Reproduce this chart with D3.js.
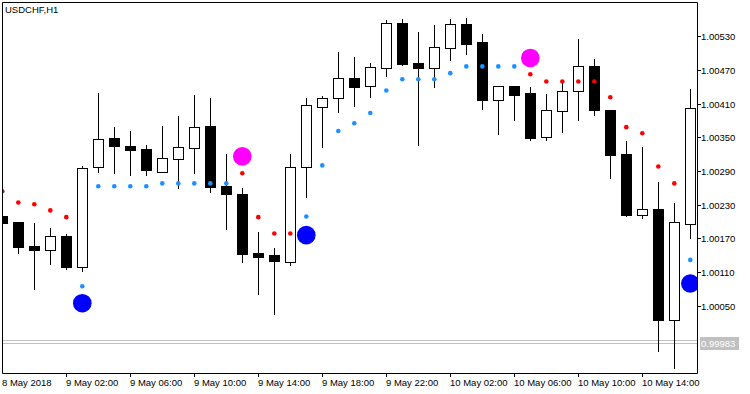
<!DOCTYPE html>
<html>
<head>
<meta charset="utf-8">
<script src="https://cdn.jsdelivr.net/npm/d3@7"></script>
<style>
  html, body { margin: 0; padding: 0; background: #fff; }
  svg { display: block; }
  text { font-family: "Liberation Sans", Arial, sans-serif; font-size: 9.5px; fill: #000; }
</style>
</head>
<body>
<svg id="chart" width="750" height="394"></svg>
<script>
'use strict';

// USDCHF H1, one candle per hour from 8 May 22:00 to 10 May 17:00
const opens = [1.00210, 1.00199, 1.00155, 1.00148, 1.00173, 1.00119, 1.00296, 1.00347, 1.00334, 1.00329,
    1.00289, 1.00312, 1.00331, 1.00369, 1.00262, 1.00249, 1.00144, 1.00139, 1.00129, 1.00297,
    1.00404, 1.00419, 1.00455, 1.00440, 1.00474, 1.00553, 1.00482, 1.00474, 1.00509, 1.00551,
    1.00518, 1.00416, 1.00441, 1.00427, 1.00350, 1.00397, 1.00432, 1.00476, 1.00398, 1.00320,
    1.00212, 1.00222, 1.00026, 1.00196];
const highs = [1.00214, 1.00199, 1.00198, 1.00189, 1.00178, 1.00299, 1.00428, 1.00368, 1.00361, 1.00336,
    1.00370, 1.00388, 1.00425, 1.00419, 1.00320, 1.00259, 1.00181, 1.00153, 1.00320, 1.00420,
    1.00423, 1.00502, 1.00493, 1.00482, 1.00558, 1.00560, 1.00537, 1.00550, 1.00560, 1.00562,
    1.00534, 1.00441, 1.00441, 1.00439, 1.00427, 1.00450, 1.00525, 1.00489, 1.00398, 1.00343,
    1.00332, 1.00270, 1.00233, 1.00436];
const lows = [1.00196, 1.00145, 1.00080, 1.00125, 1.00116, 1.00113, 1.00288, 1.00287, 1.00282, 1.00282,
    1.00289, 1.00260, 1.00287, 1.00253, 1.00187, 1.00129, 1.00072, 1.00035, 1.00122, 1.00243,
    1.00333, 1.00394, 1.00406, 1.00422, 1.00459, 1.00478, 1.00337, 1.00439, 1.00487, 1.00498,
    1.00401, 1.00356, 1.00381, 1.00346, 1.00346, 1.00359, 1.00381, 1.00390, 1.00278, 1.00210,
    1.00207, 0.99970, 0.99940, 1.00170];
const closes = [1.00198, 1.00154, 1.00148, 1.00173, 1.00118, 1.00295, 1.00346, 1.00333, 1.00328, 1.00291,
    1.00313, 1.00332, 1.00368, 1.00260, 1.00248, 1.00143, 1.00138, 1.00129, 1.00297, 1.00407,
    1.00419, 1.00455, 1.00440, 1.00474, 1.00553, 1.00480, 1.00474, 1.00510, 1.00551, 1.00516,
    1.00415, 1.00441, 1.00426, 1.00347, 1.00398, 1.00432, 1.00476, 1.00398, 1.00319, 1.00212,
    1.00222, 1.00026, 1.00199, 1.00402];

// trailing stop dots: red above price in a downtrend, blue below in an uptrend
const stopDown = [1.00254, 1.00234, 1.00231, 1.00220, 1.00208, null, null, null, null, null,
    null, null, null, null, null, 1.00286, 1.00208, 1.00179, 1.00179, null,
    null, null, null, null, null, null, null, null, null, null,
    null, null, null, 1.00462, 1.00449, 1.00449, 1.00449, 1.00449, 1.00421, 1.00368,
    1.00357, 1.00298, 1.00268, null];
const stopUp = [null, null, null, null, null, 1.00085, 1.00263, 1.00263, 1.00263, 1.00263,
    1.00268, 1.00268, 1.00268, 1.00268, 1.00268, null, null, null, null, 1.00209,
    1.00300, 1.00361, 1.00375, 1.00393, 1.00433, 1.00453, 1.00453, 1.00453, 1.00464, 1.00476,
    1.00476, 1.00476, 1.00476, null, null, null, null, null, null, null,
    null, null, null, 1.00132];

// signal arrows drawn as big circles
const buyBars = [5, 19, 43];
const buyPrices = [1.00055, 1.00176, 1.00090];
const sellBars = [15, 33];
const sellPrices = [1.00316, 1.00491];

const priceTicks = [1.00050, 1.00110, 1.00170, 1.00230, 1.00290, 1.00350, 1.00410, 1.00470, 1.00530];
const timeTickBars = [4, 8, 12, 16, 20, 24, 28, 32, 36, 40];
const timeTickLabels = ["9 May 02:00", "9 May 06:00", "9 May 10:00", "9 May 14:00", "9 May 18:00",
    "9 May 22:00", "10 May 02:00", "10 May 06:00", "10 May 10:00", "10 May 14:00"];
const firstLabel = "8 May 2018";
const symbol = "USDCHF,H1";
const bid = 0.99983;
const ask = 0.99989;

const pLeft = 2, pTop = 2, pRight = 697, pBottom = 373;
const svg = d3.select("#chart");

const x = d3.scaleLinear().domain([0, opens.length - 1]).range([2.3, 690.3]);
const y = d3.scaleLinear().domain([1.00050, 1.00530]).range([306, 36]);
const px = v => Math.floor(v) + 0.5;

svg.append("defs").append("clipPath").attr("id", "plot")
    .append("rect")
    .attr("x", pLeft + 0.5).attr("y", pTop + 0.5)
    .attr("width", pRight - pLeft - 0.5).attr("height", pBottom - pTop - 0.5);

const plot = svg.append("g").attr("clip-path", "url(#plot)");

// bid / ask lines
plot.selectAll("line.quote").data([ask, bid]).join("line")
    .attr("class", "quote")
    .attr("x1", pLeft).attr("x2", pRight)
    .attr("y1", d => px(y(d))).attr("y2", d => px(y(d)))
    .attr("stroke", "#c0c0c0").attr("stroke-width", 1);

const candles = plot.selectAll("g.candle").data(opens.map((o, i) => ({
    i: i, o: o, h: highs[i], l: lows[i], c: closes[i]
}))).join("g").attr("class", "candle");

candles.append("line")
    .attr("x1", d => px(x(d.i))).attr("x2", d => px(x(d.i)))
    .attr("y1", d => Math.round(y(d.h))).attr("y2", d => Math.round(y(d.l)) + 1)
    .attr("stroke", "#000").attr("stroke-width", 1);

candles.append("rect")
    .attr("x", d => Math.floor(x(d.i)) - 5 + 0.5)
    .attr("width", 10)
    .attr("y", d => px(y(Math.max(d.o, d.c))))
    .attr("height", d => Math.max(1, Math.round(y(Math.min(d.o, d.c))) - Math.round(y(Math.max(d.o, d.c)))))
    .attr("fill", d => d.c >= d.o ? "#fff" : "#000")
    .attr("stroke", "#000").attr("stroke-width", 1);

// stop dots
const dots = [];
stopDown.forEach((v, i) => { if (v !== null) dots.push({ i: i, v: v, col: "#ff0000" }); });
stopUp.forEach((v, i) => { if (v !== null) dots.push({ i: i, v: v, col: "#1e90ff" }); });

plot.selectAll("circle.stop").data(dots).join("circle")
    .attr("class", "stop")
    .attr("cx", d => x(d.i)).attr("cy", d => y(d.v))
    .attr("r", 2.3)
    .attr("fill", d => d.col);

plot.selectAll("circle.buy").data(buyBars).join("circle")
    .attr("class", "buy")
    .attr("cx", d => x(d)).attr("cy", (d, k) => y(buyPrices[k]))
    .attr("r", 9.3).attr("fill", "#0000ff");

plot.selectAll("circle.sell").data(sellBars).join("circle")
    .attr("class", "sell")
    .attr("cx", d => x(d)).attr("cy", (d, k) => y(sellPrices[k]))
    .attr("r", 9.3).attr("fill", "#ff00ff");

// frame
svg.append("path")
    .attr("d", `M${pLeft + 0.5},${pBottom + 0.5}V${pTop + 0.5}H${pRight + 0.5}V${pBottom + 0.5}H${pLeft + 0.5}`)
    .attr("fill", "none").attr("stroke", "#000").attr("stroke-width", 1);

// price axis
const yAxis = svg.append("g");
priceTicks.forEach(p => {
    const yy = Math.round(y(p));
    yAxis.append("line")
        .attr("x1", pRight).attr("x2", pRight + 4)
        .attr("y1", yy + 0.5).attr("y2", yy + 0.5)
        .attr("stroke", "#000");
    yAxis.append("text")
        .attr("x", pRight + 4).attr("y", yy + 4)
        .text(p.toFixed(5));
});

// bid label
const by = Math.round(y(bid));
svg.append("rect")
    .attr("x", pRight + 3).attr("y", by - 7)
    .attr("width", 39).attr("height", 13)
    .attr("fill", "#c0c0c0");
svg.append("text")
    .attr("x", pRight + 4).attr("y", by + 3)
    .style("fill", "#fff")
    .text(bid.toFixed(5));

// time axis
const xAxis = svg.append("g");
timeTickBars.forEach((b, k) => {
    const xx = px(x(b));
    xAxis.append("line")
        .attr("x1", xx).attr("x2", xx)
        .attr("y1", pBottom).attr("y2", pBottom + 4)
        .attr("stroke", "#000");
    xAxis.append("text")
        .attr("x", xx - 0.5).attr("y", pBottom + 13)
        .text(timeTickLabels[k]);
});
xAxis.append("text").attr("x", pLeft).attr("y", pBottom + 13).text(firstLabel);

svg.append("text").attr("x", 5).attr("y", 13).text(symbol);
</script>
</body>
</html>
